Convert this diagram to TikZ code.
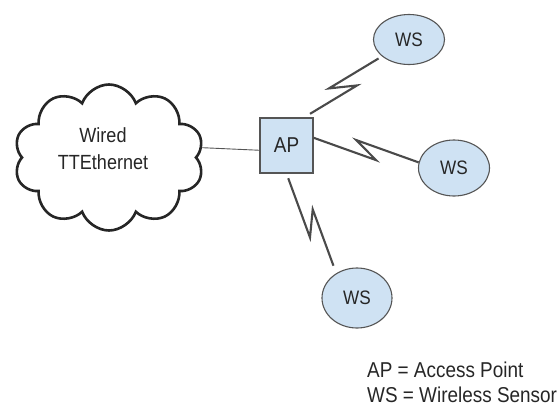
\documentclass[tikz,border=0pt]{standalone}
\usepackage{fontspec}
\setmainfont{Liberation Sans}[FakeStretch=0.88]
\usetikzlibrary{shapes.geometric,shapes.symbols,calc}

\definecolor{nodefill}{HTML}{CFE2F3}
\definecolor{nodeline}{HTML}{555555}
\definecolor{boltline}{HTML}{4A4A4A}
\definecolor{cloudline}{HTML}{262626}
\definecolor{inktext}{HTML}{262626}

\tikzset{
  sans/.style={font=\fontsize{#1}{#1}\selectfont, text=inktext},
  apbox/.style={draw=nodeline, fill=nodefill, line width=1.1pt,
    minimum width=53pt, minimum height=55pt, inner sep=0pt, sans=21.5},
  sensor/.style={ellipse, draw=nodeline, fill=nodefill, line width=1.1pt,
    inner sep=0pt, sans=19.5},
  netcloud/.style={cloud, cloud puffs=10, cloud puff arc=140, aspect=1.3,
    draw=cloudline, line width=2.6pt, minimum width=190pt,
    minimum height=146pt, inner sep=0pt},
  wire/.style={draw=nodeline, line width=0.9pt},
  % radio link drawn as a lightning bolt between two points
  zap/.style={draw=boltline, line width=2.1pt, line join=miter,
    to path={let \p1=(\tikztostart), \p2=(\tikztotarget),
      \p3=($(\p1)!0.5!(\p2)$),
      \p4=($(\p3)!12pt!(\p2)$), \p5=($(\p3)!-12pt!(\p2)$),
      \p6=($(\p4)!7.5pt!-90:(\p2)$), \p7=($(\p5)!7.5pt!90:(\p2)$)
      in -- (\p6) -- (\p7) -- (\p2)}},
  legend/.style={anchor=base west, inner sep=0pt, sans=21.5}
}

\begin{document}
\begin{tikzpicture}[x=1pt, y=-1pt]
  \useasboundingbox (0,0) rectangle (560,407);

  % wired backbone
  \node[netcloud] (net) at (109,157.5) {};
  \node[align=center, inner sep=0pt, sans=20.5] (nettext) at (103,148.5)
    {Wired\\[6pt]TTEthernet};

  % access point and wireless sensors
  \node[apbox] (ap) at (286.5,145.5) {AP};
  \node[sensor, minimum width=71pt, minimum height=50pt] (ws1) at (409,39.5) {WS};
  \node[sensor, minimum width=71pt, minimum height=56pt] (ws2) at (454,168) {WS};
  \node[sensor, minimum width=70pt, minimum height=60pt] (ws3) at (357,298) {WS};

  % links
  \draw[wire] (net.6) -- (ap.190);
  \draw[zap, shorten <=4pt, shorten >=7pt] (ws1.212) to (ap.58);
  \draw[zap] (ap.16) to (ws2.171);
  \draw[zap, shorten <=5pt, shorten >=8pt] (ap.south) to (ws3.130);

  % key
  \node[legend] (key1) at (367,377) {AP = Access Point};
  \node[legend] (key2) at (367,402) {WS = Wireless Sensor};
\end{tikzpicture}
\end{document}
